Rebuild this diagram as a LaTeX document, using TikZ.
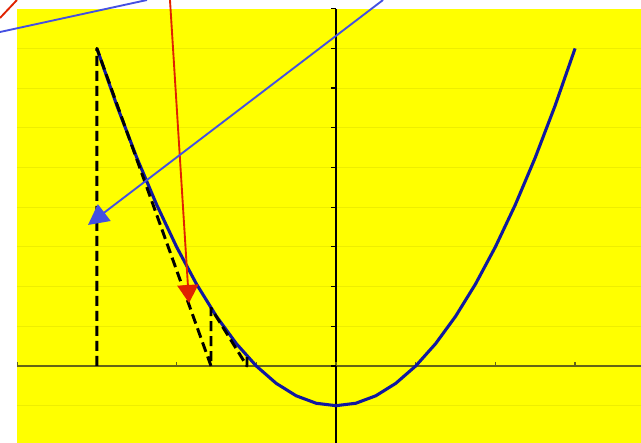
\documentclass[tikz,border=0pt]{standalone}
\usetikzlibrary{arrows.meta}

\definecolor{chartyellow}{RGB}{255,255,0}
\definecolor{gridyellow}{RGB}{238,238,0}
\definecolor{axisolive}{RGB}{100,100,20}
\definecolor{curveblue}{RGB}{16,24,160}
\definecolor{pointerblue}{RGB}{68,80,226}
\definecolor{pointerred}{RGB}{224,34,0}

\begin{document}
\begin{tikzpicture}[
    x=59.775pt, y=29.775pt,
    gridline/.style={draw=gridyellow, line width=0.6pt},
    axisx/.style={draw=axisolive, line width=1.2pt},
    axisy/.style={draw=black, line width=0.9pt},
    curve/.style={draw=curveblue, line width=2.3pt, line join=round},
    newton/.style={draw=black, line width=2.2pt, line join=round, dash pattern=on 7.5pt off 3.75pt},
    pointer/.style={line width=1.4pt}
]
    % Page and plot area
    \useasboundingbox (-4.2158,-1.9395) rectangle (3.8269,9.2191);
    \fill[white] (-4.2158,-1.9395) rectangle (3.8269,9.2191);
    \fill[chartyellow] (-4,-1.9395) rectangle (3.8269,9);

    % Gridlines
    \foreach \k in {-1,1,2,...,8}
        \draw[gridline] (-4,\k) -- (3.8269,\k);

    % Axes and ticks
    \draw[axisx] (-4,0) -- (3.8269,0);
    \draw[axisy] (0,-1.9395) -- (0,9);
    \foreach \i in {-4,...,3}
        \draw[axisx, line width=0.9pt] (\i,0) -- ++(0,3pt);
    \foreach \j in {-1,...,9}
        \draw[axisy] (0,\j) -- ++(-4pt,0);

    % Function
    \draw[curve] plot[domain=-3:3, samples=25] (\x,{\x*\x-1});

    % Steps
    \coordinate (x0) at (-3,0);
    \coordinate (p0) at (-3,8);
    \coordinate (x1) at (-1.568,0);
    \coordinate (p1) at (-1.568,1.459);
    \coordinate (x2) at (-1.117,0);
    \coordinate (p2) at (-1.117,0.248);
    \draw[newton] (x0) -- (p0) -- (x1) -- (p1) -- (x2) -- (p2);

    % Pointers
    \coordinate (redtop) at (-2.083,9.2191);
    \coordinate (redtip) at (-1.844,1.587);
    \coordinate (bluetop) at (0.590,9.2191);
    \coordinate (bluetip) at (-3.112,3.552);
    \coordinate (redcornerA) at (-4.2158,8.766);
    \coordinate (redcornerB) at (-4.003,9.2191);
    \coordinate (bluecornerA) at (-4.2158,8.413);
    \coordinate (bluecornerB) at (-2.371,9.2191);

    \draw[pointer, pointerred, -{Triangle[length=13.5pt, width=15.75pt]}] (redtop) -- (redtip);
    \draw[pointer, pointerblue, -{Triangle[length=15.4pt, width=15.6pt]}] (bluetop) -- (bluetip);
    \draw[pointer, pointerred] (redcornerA) -- (redcornerB);
    \draw[pointer, pointerblue] (bluecornerA) -- (bluecornerB);
\end{tikzpicture}
\end{document}
